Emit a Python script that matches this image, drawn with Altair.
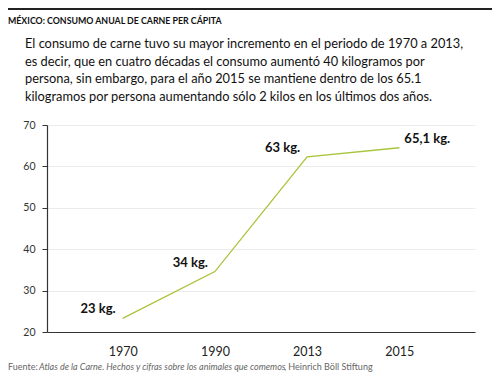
import altair as alt
import pandas as pd

years = ["1970", "1990", "2013", "2015"]
consumo = [23.3, 34.6, 62.3, 64.5]
etiquetas = ["23 kg.", "34 kg.", "63 kg.", "65,1 kg."]

titulo = "MÉXICO: CONSUMO ANUAL DE CARNE PER CÁPITA"
parrafo = [
    "El consumo de carne tuvo su mayor incremento en el periodo de 1970 a 2013,",
    "es decir, que en cuatro décadas el consumo aumentó 40 kilogramos por",
    "persona, sin embargo, para el año 2015 se mantiene dentro de los 65.1",
    "kilogramos por persona aumentando sólo 2 kilos en los últimos dos años.",
]
fuente_a = "Fuente:"
fuente_b = "Atlas de la Carne. Hechos y cifras sobre los animales que comemos"
fuente_c = ", Heinrich Böll Stiftung"

df = pd.DataFrame({"year": years, "value": consumo, "label": etiquetas})

FONT = "Lato"
W, H = 428, 207

x = alt.X("year:N", sort=years,
          scale=alt.Scale(type="point", padding=0.82),
          axis=alt.Axis(title=None, labelAngle=0, ticks=False, grid=False,
                        domainColor="#333333", domainWidth=1.2,
                        labelFont=FONT, labelFontSize=12.5, labelColor="#222222",
                        labelPadding=13))
y = alt.Y("value:Q",
          scale=alt.Scale(domain=[20, 70], nice=False, zero=False),
          axis=alt.Axis(title=None, values=[20, 30, 40, 50, 60, 70],
                        grid=True, gridColor="#ebebeb", domainColor="#333333",
                        domainWidth=1.2, tickColor="#333333", tickSize=5,
                        labelFont=FONT, labelFontSize=10.5, labelColor="#333333",
                        labelPadding=7))

base = alt.Chart(df)

line = base.mark_line(color="#a8c43a", strokeWidth=1.3).encode(x=x, y=y)

lab_left = base.transform_filter("datum.year != '2015'").mark_text(
    font=FONT, fontWeight="bold", fontSize=13, color="#111111",
    align="right", baseline="middle", dx=-7, dy=-9
).encode(x=x, y=y, text="label:N")

lab_right = base.transform_filter("datum.year == '2015'").mark_text(
    font=FONT, fontWeight="bold", fontSize=13, color="#111111",
    align="left", baseline="middle", dx=5, dy=-9
).encode(x=x, y=y, text="label:N")

one = alt.Chart(pd.DataFrame({"k": [0]}))

top_rule = one.mark_rule(color="#222222", strokeWidth=2).encode(
    x=alt.value(-39), x2=alt.value(445), y=alt.value(-116))

title = one.mark_text(font=FONT, fontWeight="bold", fontSize=8.8,
                      color="#111111", align="left", baseline="alphabetic").encode(
    x=alt.value(-39), y=alt.value(-101), text=alt.value(titulo))

para = one.mark_text(font=FONT, fontSize=12.8, color="#111111", align="left",
                     baseline="top", lineHeight=17.5).encode(
    x=alt.value(-22), y=alt.value(-87), text=alt.value(parrafo))

fa = one.mark_text(font=FONT, fontSize=9, color="#666666", align="left",
                   baseline="middle").encode(
    x=alt.value(-39), y=alt.value(242), text=alt.value(fuente_a))
fb = one.mark_text(font=FONT, fontSize=9, fontStyle="italic", color="#666666",
                   align="left", baseline="middle").encode(
    x=alt.value(-8), y=alt.value(242), text=alt.value(fuente_b))
fc = one.mark_text(font=FONT, fontSize=9, color="#666666", align="left",
                   baseline="middle").encode(
    x=alt.value(237), y=alt.value(242), text=alt.value(fuente_c))

chart = alt.layer(line, lab_left, lab_right, top_rule, title, para, fa, fb, fc).properties(
    width=W, height=H,
    autosize=alt.AutoSizeParams(type="none"),
    padding={"left": 39, "top": 117, "right": 17, "bottom": 40},
    background="white",
).configure_view(stroke=None)

chart.save("out.html", embed_options={"renderer": "svg", "actions": False})
